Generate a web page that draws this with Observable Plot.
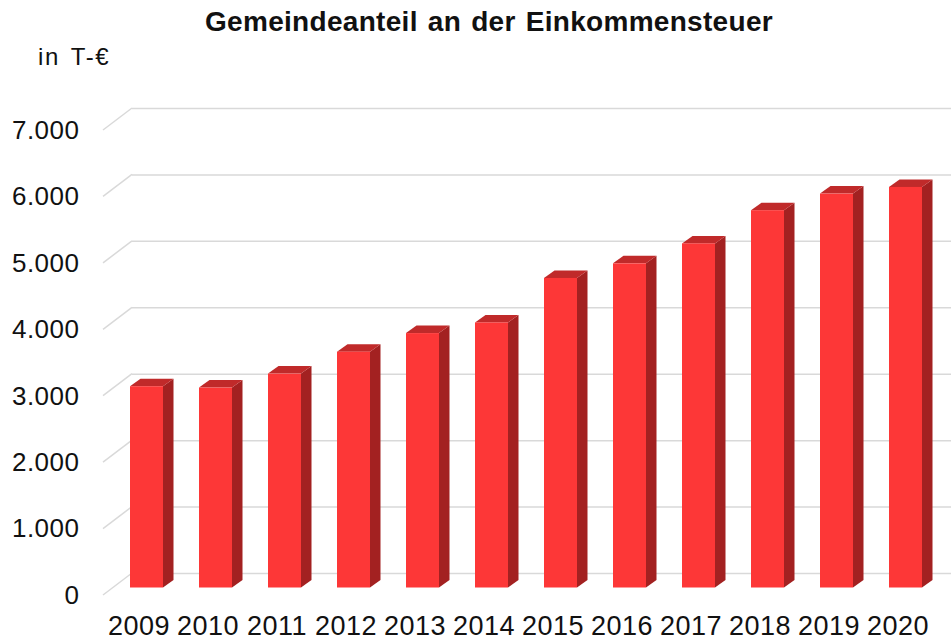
<!DOCTYPE html>
<html>
<head>
<meta charset="utf-8">
<script src="https://cdn.jsdelivr.net/npm/d3@7"></script>
<script src="https://cdn.jsdelivr.net/npm/@observablehq/plot@0.6"></script>
<style>
  html, body { margin: 0; padding: 0; background: #fff; }
  #wrap { position: relative; width: 951px; height: 642px; overflow: hidden; font-family: "Liberation Sans", Arial, Helvetica, sans-serif; color: #111; }
  #title { position: absolute; top: 8px; left: 489px; transform: translateX(-50%); white-space: nowrap; font-size: 28px; line-height: 28px; font-weight: bold; letter-spacing: 0.3px; word-spacing: 2px; }
  #unit { position: absolute; top: 45px; left: 38px; white-space: nowrap; font-size: 24px; line-height: 24px; letter-spacing: 1.6px; word-spacing: 3px; }
  #chart { position: absolute; top: 0; left: 0; }
</style>
</head>
<body>
<div id="wrap">
  <div id="chart"></div>
  <div id="title">Gemeindeanteil an der Einkommensteuer</div>
  <div id="unit">in T-€</div>
</div>
<script>
const years = ["2009","2010","2011","2012","2013","2014","2015","2016","2017","2018","2019","2020"];
const values = [3030, 3010, 3220, 3550, 3830, 3990, 4660, 4880, 5180, 5680, 5930, 6030];
const yTicks = [0, 1000, 2000, 3000, 4000, 5000, 6000, 7000];

const data = years.map((year, i) => ({year, value: values[i]}));

const de = d3.formatLocale({decimal: ",", thousands: ".", grouping: [3], currency: ["", " €"]});
const fmt = de.format(",");

const frontColor = "#fd3737";
const sideColor = "#a32121";
const topColor = "#c02a2a";
const gridColor = "#d9d9d9";

// 3D geometry (pixels)
const wallDx = 29, wallDy = -22;   // depth of the grid walls
const barLift = -7.5;              // bar front plane relative to wall front plane
const depthDx = 10.5, depthDy = -7.5; // bar depth

const diagonals = (index, scales, values_, dims) => {
  const y = scales.y;
  const g = d3.create("svg:g");
  const x0 = dims.marginLeft;
  for (const t of yTicks) {
    g.append("line")
      .attr("x1", x0).attr("y1", y(t))
      .attr("x2", x0 + wallDx).attr("y2", y(t) + wallDy)
      .attr("stroke", gridColor).attr("stroke-width", 1.5);
  }
  return g.node();
};

const barFaces = (index, scales) => {
  const x = scales.x, y = scales.y;
  const bw = x.bandwidth ? x.bandwidth() : 33;
  const g = d3.create("svg:g");
  for (const d of data) {
    const xl = x(d.year), xr = xl + bw;
    const y0 = y(0) + barLift, yv = y(d.value) + barLift;
    g.append("path")
      .attr("d", `M${xr},${y0}L${xr + depthDx},${y0 + depthDy}L${xr + depthDx},${yv + depthDy}L${xr},${yv}Z`)
      .attr("fill", sideColor);
    g.append("path")
      .attr("d", `M${xl},${yv}L${xl + depthDx},${yv + depthDy}L${xr + depthDx},${yv + depthDy}L${xr},${yv}Z`)
      .attr("fill", topColor);
  }
  return g.node();
};

const chart = Plot.plot({
  width: 951,
  height: 642,
  marginLeft: 103,
  marginRight: 29,
  marginTop: 130,
  marginBottom: 47,
  style: {
    fontFamily: "'Liberation Sans', Arial, Helvetica, sans-serif",
    fontSize: "26px",
    color: "#111",
    background: "transparent",
    letterSpacing: "0.5px"
  },
  x: {
    type: "band",
    domain: years,
    range: [95.5, 956.5],
    paddingInner: 36 / 69,
    paddingOuter: 0.5,
    axis: null
  },
  y: {
    domain: [0, 7000],
    ticks: yTicks,
    tickFormat: fmt,
    tickSize: 0,
    tickPadding: 24,
    label: null
  },
  marks: [
    Plot.ruleY(yTicks, {dx: wallDx, dy: wallDy, stroke: gridColor, strokeWidth: 1.5}),
    diagonals,
    barFaces,
    Plot.barY(data, {x: "year", y: "value", dy: barLift, fill: frontColor}),
    Plot.text(data, {x: "year", text: "year", frameAnchor: "bottom", dy: 39, dx: -8, fontSize: 27})
  ]
});
document.getElementById("chart").appendChild(chart);
</script>
</body>
</html>
